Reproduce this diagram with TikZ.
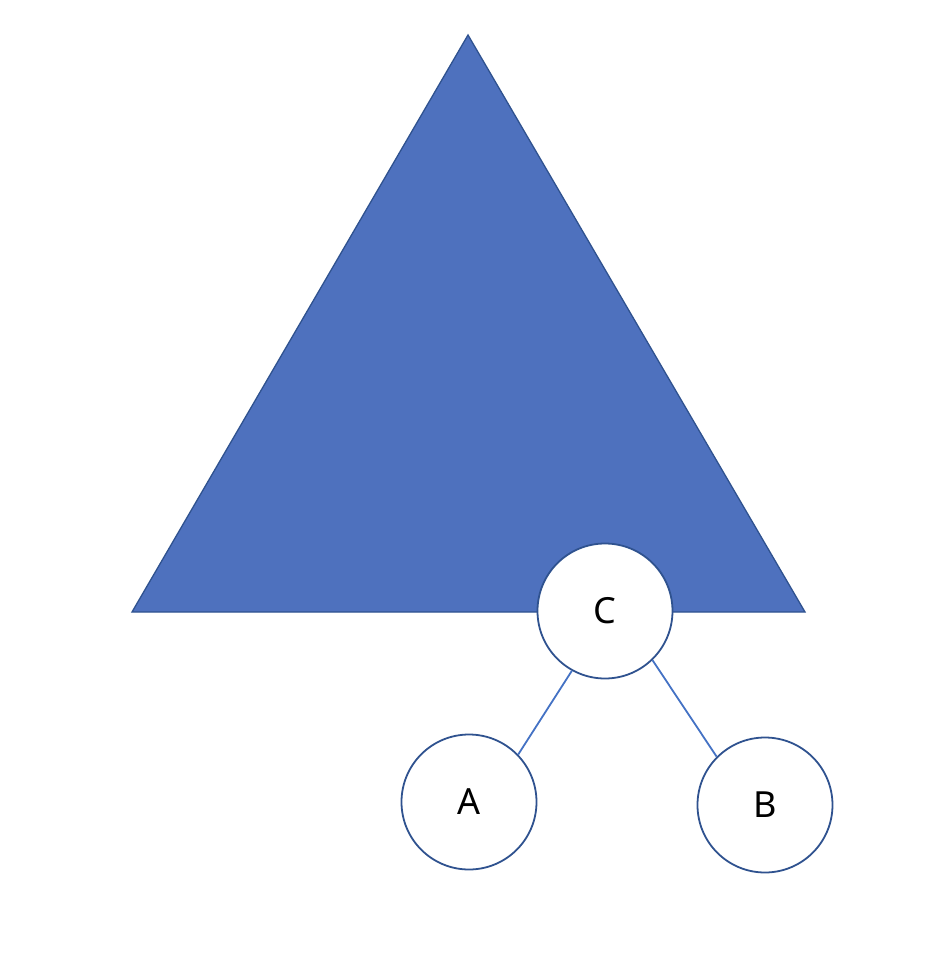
\documentclass[tikz,border=0pt]{standalone}
\usepackage{fontspec}
\setmainfont{Noto Sans}
\definecolor{trifill}{HTML}{4E71BE}
\definecolor{edgedark}{HTML}{2F528F}
\definecolor{linkblue}{HTML}{4472C4}
\begin{document}
\begin{tikzpicture}[x=1pt,y=-1pt,
  treenode/.style={circle,draw=edgedark,line width=1.8pt,fill=white,minimum size=135pt,inner sep=0pt,font=\fontsize{36}{40}\selectfont},
  link/.style={draw=linkblue,line width=1.8pt}]
\useasboundingbox (0,0) rectangle (938,970);
\filldraw[fill=trifill,draw=edgedark,line width=1.3pt] (468,35) -- (805,612) -- (132,612) -- cycle;
\node[treenode] (C) at (605,611) {C};
\node[treenode] (A) at (469,802) {A};
\node[treenode] (B) at (765,805) {B};
\draw[link] (C.241) -- (A.44);
\draw[link] (C.314) -- (B.135);
\end{tikzpicture}
\end{document}
